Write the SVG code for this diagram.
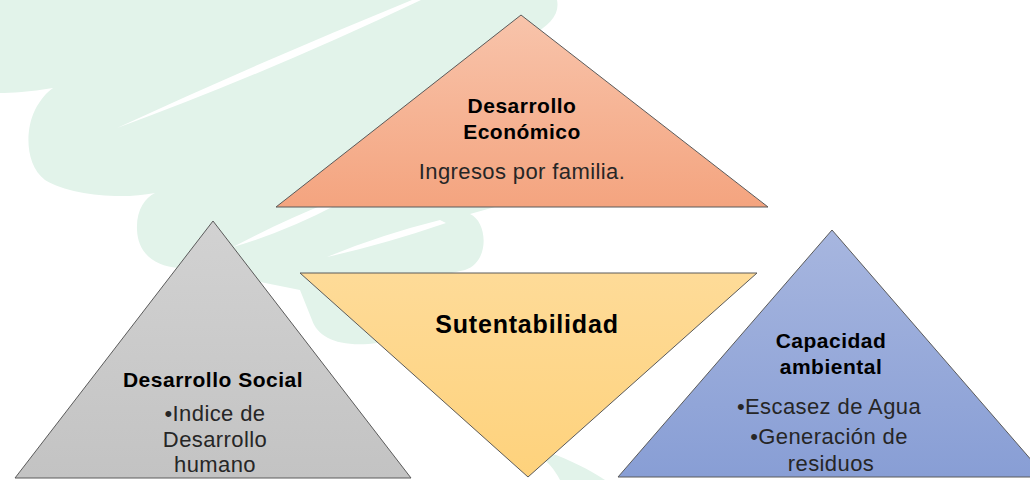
<svg xmlns="http://www.w3.org/2000/svg" width="1030" height="480" viewBox="0 0 1030 480">
<defs>
<linearGradient id="gOr" x1="0" y1="0" x2="0" y2="1"><stop offset="0" stop-color="#f8c4ab"/><stop offset="1" stop-color="#f4a47f"/></linearGradient>
<linearGradient id="gGr" x1="0" y1="0" x2="0" y2="1"><stop offset="0" stop-color="#d2d2d2"/><stop offset="1" stop-color="#c3c3c3"/></linearGradient>
<linearGradient id="gYe" x1="0" y1="0" x2="0" y2="1"><stop offset="0" stop-color="#fedb98"/><stop offset="1" stop-color="#fed27c"/></linearGradient>
<linearGradient id="gBl" x1="0" y1="0" x2="0" y2="1"><stop offset="0" stop-color="#a7b6df"/><stop offset="1" stop-color="#889ed5"/></linearGradient>
</defs>
<style>
.tri{stroke:#5a5a5a;stroke-width:1}
.t{font-family:"Liberation Sans",Arial,sans-serif;text-anchor:middle;fill:#000}
.b{font-weight:bold;font-size:21px;letter-spacing:0.5px}
.n{font-size:22px;fill:#262626;letter-spacing:0.4px}
.bg{fill:#e2f3ea}
</style>
<g id="background">
<path class="bg" d="M0,0 L557,0 C560,14 550,26 530,36 L520,200 L470,214 C488,222 490,262 465,270 L420,280 L378,343 C340,348 318,338 312,320 L300,290 L250,280 L180,268 C150,266 138,250 137,230 C136,210 145,198 155,193 C120,200 70,195 45,180 C25,165 25,130 35,110 C40,100 47,92 53,88 C30,92 10,93 0,93 Z"/>
<path fill="#ffffff" d="M117,128 Q260,62 412,0 L421,0 Q265,74 117,128 Z"/>
<path fill="#ffffff" d="M233,247 Q280,222 330,202 L338,204 Q285,232 233,247 Z"/>
<path fill="#ffffff" d="M327,257 Q380,235 440,220 L446,223 Q385,244 327,257 Z"/>
<path class="bg" d="M548,452 C570,460 590,470 605,480 L560,480 C555,470 548,462 540,456 Z"/>
</g>
<g id="connectors"></g>
<g id="economico">
<polygon class="tri" fill="url(#gOr)" points="521,15 768,207 276,207"/>
<text class="t b" x="522" y="113">Desarrollo</text>
<text class="t b" x="522" y="139">Económico</text>
<text class="t n" x="522" y="179">Ingresos por familia.</text>
</g>
<g id="social">
<polygon class="tri" fill="url(#gGr)" points="213,221 411,478 15,478"/>
<text class="t b" x="213" y="387">Desarrollo Social</text>
<text class="t n" x="215" y="421">•Indice de</text>
<text class="t n" x="215" y="447">Desarrollo</text>
<text class="t n" x="215" y="472">humano</text>
</g>
<g id="sutentabilidad">
<polygon class="tri" fill="url(#gYe)" points="300,273 757,273 528,477"/>
<text class="t" x="527" y="333" font-weight="bold" font-size="25px" letter-spacing="0.8px">Sutentabilidad</text>
</g>
<g id="ambiental">
<polygon class="tri" fill="url(#gBl)" points="832,230 1046,477 618,477"/>
<text class="t b" x="831" y="348">Capacidad</text>
<text class="t b" x="831" y="374">ambiental</text>
<text class="t n" x="829" y="414">•Escasez de Agua</text>
<text class="t n" x="829" y="444">•Generación de</text>
<text class="t n" x="831" y="471">residuos</text>
</g>
</svg>
